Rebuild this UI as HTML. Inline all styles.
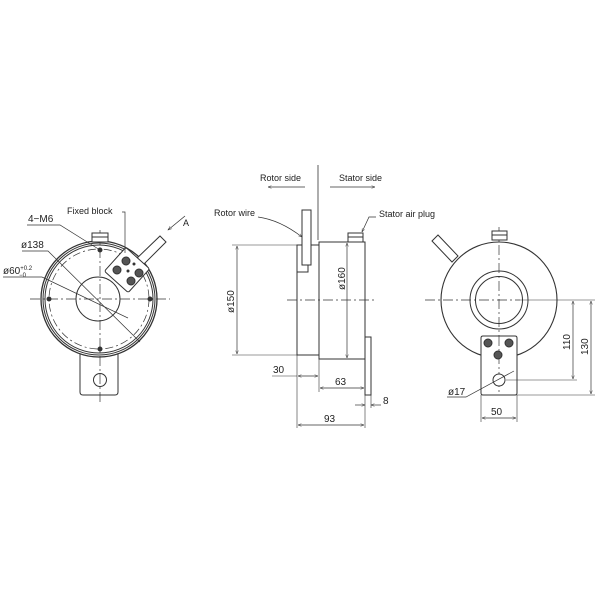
<!DOCTYPE html>
<html><head><meta charset="utf-8"><style>
html,body{margin:0;padding:0;background:#fff;width:600px;height:600px;overflow:hidden}
svg{display:block}
text{font-family:"Liberation Sans",sans-serif;fill:#222}
</style></head><body>
<svg width="600" height="600" viewBox="0 0 600 600" xmlns="http://www.w3.org/2000/svg">
<defs>
<marker id="ar" viewBox="0 0 10 10" refX="10" refY="5" markerWidth="7" markerHeight="5" orient="auto-start-reverse"><path d="M0,1 L10,5 L0,9" fill="none" stroke="#333" stroke-width="1.2"/></marker>
</defs>
<g stroke="#333" fill="none" stroke-width="1">
<!-- LEFT VIEW -->
<path d="M80,352 L80,392 Q80,395 83,395 L115,395 Q118,395 118,392 L118,352"/>
<circle cx="100" cy="380" r="6.5"/>
<circle cx="99" cy="299" r="58" fill="#fff" stroke-width="1.3"/>
<circle cx="99" cy="299" r="56"/>
<circle cx="99" cy="299" r="54"/>
<circle cx="99" cy="299" r="50" stroke-dasharray="8,3,2,3" stroke-width="0.7"/>
<circle cx="98" cy="299" r="22"/>
<line x1="30" y1="299" x2="170" y2="299" stroke-dasharray="10,3,2,3" stroke-width="0.7"/>
<line x1="100" y1="230" x2="100" y2="405" stroke-dasharray="10,3,2,3" stroke-width="0.7"/>
<circle cx="49" cy="299" r="2" fill="#333"/><circle cx="150" cy="299" r="2" fill="#333"/>
<circle cx="100" cy="250" r="2" fill="#333"/><circle cx="100" cy="349" r="2" fill="#333"/>
<rect x="92" y="233" width="16" height="9" fill="#fff"/>
<line x1="92" y1="237" x2="108" y2="237"/>
<path d="M133,262 L160,236 L166,242 L140,268 Z" fill="#fff"/>
<g transform="translate(127,270) rotate(42)"><rect x="-16" y="-16" width="32" height="32" rx="2" fill="#fff"/></g>
<circle cx="126" cy="261" r="4" fill="#555"/><circle cx="117" cy="270" r="4" fill="#555"/>
<circle cx="139" cy="273" r="4" fill="#555"/><circle cx="131" cy="281" r="4" fill="#555"/>
<circle cx="128" cy="271" r="1" fill="#333"/><circle cx="134" cy="264" r="1" fill="#333"/>
<line x1="185" y1="216" x2="168" y2="230" marker-end="url(#ar)" stroke-width="0.8"/>
<polyline points="27,225 60,225 100,250" stroke-width="0.7"/>
<polyline points="22,251 48,251 140,342" stroke-width="0.7"/>
<polyline points="3,277 42,277 128,318" stroke-width="0.7"/>
<polyline points="122,212 125,212 125,253" stroke-width="0.7"/>
<!-- MIDDLE VIEW -->
<line x1="318" y1="165" x2="318" y2="240" stroke-width="0.8"/>
<line x1="268" y1="187" x2="305" y2="187" marker-start="url(#ar)" stroke-width="0.7"/>
<line x1="330" y1="187" x2="375" y2="187" marker-end="url(#ar)" stroke-width="0.7"/>
<line x1="287" y1="300" x2="375" y2="300" stroke-dasharray="10,3,2,3" stroke-width="0.7"/>
<rect x="297" y="245" width="22" height="110"/>
<rect x="319" y="242" width="46" height="117"/>
<rect x="365" y="337" width="6" height="58"/>
<path d="M308,265 L308,272 L297,272" />
<rect x="302" y="210" width="9" height="55" fill="#fff"/>
<rect x="348" y="233" width="15" height="9" fill="#fff"/>
<line x1="348" y1="237" x2="363" y2="237"/>
<path d="M258,217 Q280,220 302,237" stroke-width="0.7" marker-end="url(#ar)"/>
<polyline points="376,217 369,217 362,232" stroke-width="0.7" marker-end="url(#ar)"/>
<line x1="232" y1="245" x2="297" y2="245" stroke-width="0.6"/>
<line x1="232" y1="355" x2="297" y2="355" stroke-width="0.6"/>
<line x1="237" y1="246" x2="237" y2="354" marker-start="url(#ar)" marker-end="url(#ar)" stroke-width="0.7"/>
<line x1="347" y1="243" x2="347" y2="358" marker-start="url(#ar)" marker-end="url(#ar)" stroke-width="0.7"/>
<line x1="297" y1="355" x2="297" y2="428" stroke-width="0.6"/>
<line x1="319" y1="359" x2="319" y2="392" stroke-width="0.6"/>
<line x1="365" y1="395" x2="365" y2="428" stroke-width="0.6"/>
<line x1="371" y1="395" x2="371" y2="408" stroke-width="0.6"/>
<line x1="272" y1="376" x2="297" y2="376" stroke-width="0.6"/>
<line x1="298" y1="376" x2="318" y2="376" marker-start="url(#ar)" marker-end="url(#ar)" stroke-width="0.7"/>
<line x1="320" y1="388" x2="364" y2="388" marker-start="url(#ar)" marker-end="url(#ar)" stroke-width="0.7"/>
<line x1="355" y1="405" x2="365" y2="405" marker-end="url(#ar)" stroke-width="0.7"/>
<line x1="381" y1="405" x2="371" y2="405" marker-end="url(#ar)" stroke-width="0.7"/>
<line x1="298" y1="425" x2="364" y2="425" marker-start="url(#ar)" marker-end="url(#ar)" stroke-width="0.7"/>
<!-- RIGHT VIEW -->
<path d="M432,241 L438,235 L458,256 L452,262 Z" fill="#fff"/>
<circle cx="499" cy="300" r="58" fill="#fff" stroke-width="1.1"/>
<line x1="425" y1="300" x2="520" y2="300" stroke-dasharray="10,3,2,3" stroke-width="0.7"/>
<line x1="499" y1="227" x2="499" y2="390" stroke-dasharray="10,3,2,3" stroke-width="0.7"/>
<circle cx="499" cy="300" r="29"/>
<circle cx="499" cy="300" r="23.5"/>
<rect x="492" y="231" width="15" height="9" fill="#fff"/>
<line x1="492" y1="235" x2="507" y2="235"/>
<path d="M481,338 Q481,336 483,336 L515,336 Q517,336 517,338 L517,393 Q517,395 515,395 L483,395 Q481,395 481,393 Z" fill="#fff"/>
<line x1="499" y1="336" x2="499" y2="392" stroke-dasharray="10,3,2,3" stroke-width="0.7"/>
<circle cx="488" cy="343" r="4" fill="#555"/><circle cx="509" cy="343" r="4" fill="#555"/><circle cx="498" cy="355" r="4" fill="#555"/>
<circle cx="499" cy="380" r="6" fill="#fff"/>
<line x1="520" y1="300" x2="595" y2="300" stroke-width="0.6"/>
<line x1="506" y1="380" x2="577" y2="380" stroke-width="0.6"/>
<line x1="517" y1="395" x2="595" y2="395" stroke-width="0.6"/>
<line x1="573" y1="301" x2="573" y2="379" marker-start="url(#ar)" marker-end="url(#ar)" stroke-width="0.7"/>
<line x1="591" y1="301" x2="591" y2="394" marker-start="url(#ar)" marker-end="url(#ar)" stroke-width="0.7"/>
<line x1="481" y1="395" x2="481" y2="422" stroke-width="0.6"/>
<line x1="517" y1="395" x2="517" y2="422" stroke-width="0.6"/>
<line x1="482" y1="418" x2="516" y2="418" marker-start="url(#ar)" marker-end="url(#ar)" stroke-width="0.7"/>
<polyline points="447,397 466,397 514,371" stroke-width="0.7"/>
</g>
<g font-size="9">
<text x="67" y="214">Fixed block</text>
<text x="28" y="222" font-size="10">4−M6</text>
<text x="21" y="248" font-size="10">ø138</text>
<text x="3" y="274" font-size="10">ø60<tspan font-size="6" dy="-4">+0.2</tspan><tspan font-size="6" dx="-13" dy="7">−0</tspan></text>
<text x="183" y="226" font-size="9">A</text>
<text x="260" y="181">Rotor side</text>
<text x="339" y="181">Stator side</text>
<text x="214" y="216">Rotor wire</text>
<text x="379" y="217">Stator air plug</text>
<text transform="translate(234,313) rotate(-90)" font-size="10">ø150</text>
<text transform="translate(345,290) rotate(-90)" font-size="10">ø160</text>
<text x="273" y="373" font-size="10">30</text>
<text x="335" y="385" font-size="10">63</text>
<text x="383" y="404" font-size="10">8</text>
<text x="324" y="422" font-size="10">93</text>
<text transform="translate(570,350) rotate(-90)" font-size="10">110</text>
<text transform="translate(588,355) rotate(-90)" font-size="10">130</text>
<text x="491" y="415" font-size="10">50</text>
<text x="448" y="395" font-size="10">ø17</text>
</g>
</svg>
</body></html>
